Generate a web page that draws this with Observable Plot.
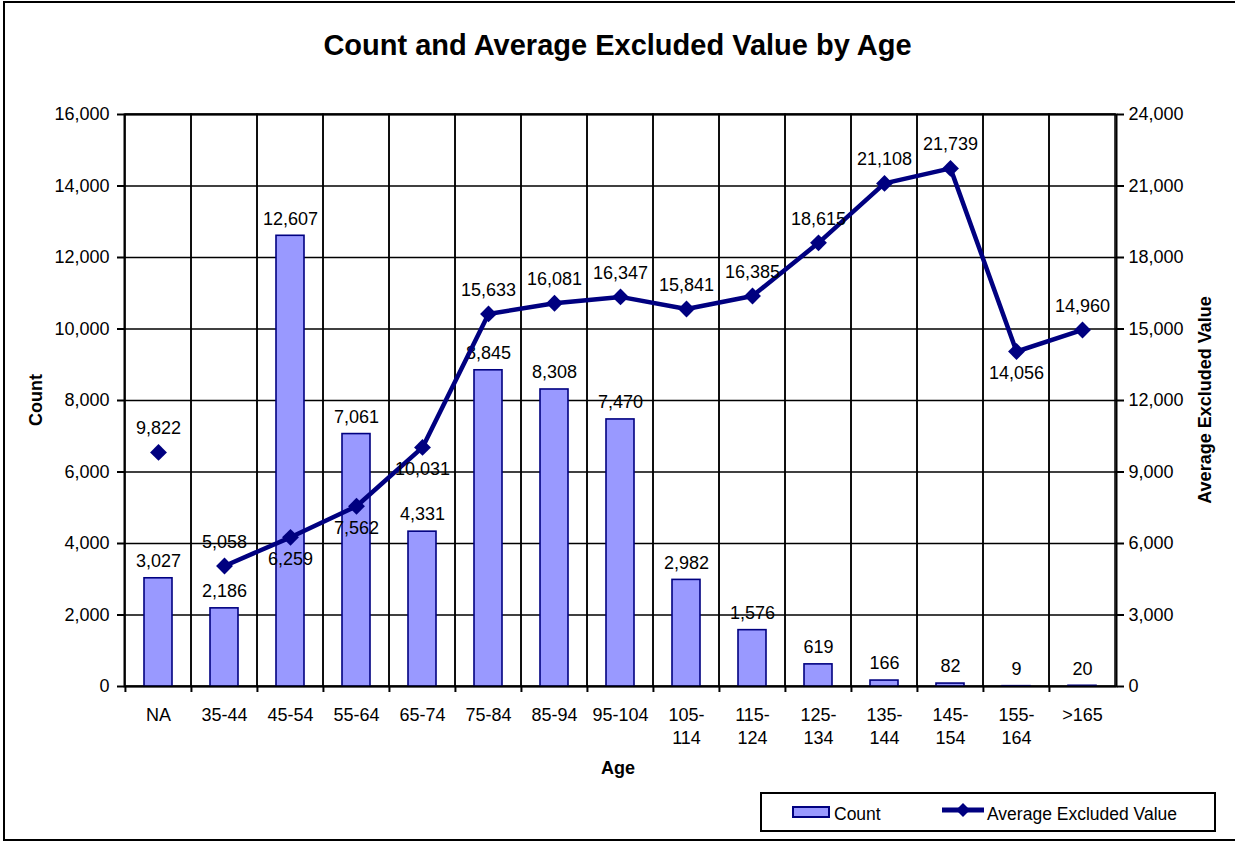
<!DOCTYPE html>
<html><head><meta charset="utf-8">
<script src="https://cdn.jsdelivr.net/npm/d3@7"></script>
<script src="https://cdn.jsdelivr.net/npm/@observablehq/plot@0.6"></script>
<style>
html,body{margin:0;padding:0;background:#fff;overflow:hidden;}
#wrap{position:relative;width:1235px;height:842px;overflow:hidden;font-family:"Liberation Sans",Arial,sans-serif;color:#000;}
#frame{position:absolute;left:3px;top:1px;width:1250px;height:840px;border:2.5px solid #000;box-sizing:border-box;pointer-events:none;}
#chart{position:absolute;left:0;top:0;}
.title{position:absolute;left:0;width:1235px;top:28px;line-height:34px;text-align:center;font-weight:bold;font-size:29px;}
.axt{position:absolute;font-weight:bold;font-size:18px;white-space:nowrap;transform:translate(-50%,-50%);line-height:20px;}
.rot{transform:translate(-50%,-50%) rotate(-90deg);}
#legend{position:absolute;left:760px;top:792px;width:456px;height:40px;border:2px solid #000;box-sizing:border-box;background:#fff;}
#legend .sw{position:absolute;left:30px;top:12px;width:38px;height:12px;background:#9999FF;border:2px solid #000080;box-sizing:border-box;}
#legend .tx{position:absolute;top:10px;line-height:20px;font-size:17.5px;white-space:nowrap;}
#legend svg{position:absolute;left:180px;top:7px;}
</style>
</head><body>
<div id="wrap">
  <div class="title">Count and Average Excluded Value by Age</div>
  <div id="chart"></div>
  <div class="axt rot" style="left:36px;top:400px;">Count</div>
  <div class="axt rot" style="left:1205px;top:400px;">Average Excluded Value</div>
  <div class="axt" style="left:618px;top:768px;">Age</div>
  <div id="legend">
    <div class="sw"></div>
    <div class="tx" style="left:72px;">Count</div>
    <svg width="44" height="18"><line x1="0" y1="9" x2="42" y2="9" stroke="#000080" stroke-width="5"/><path d="M21,2 L28,9 L21,16 L14,9 Z" fill="#000080"/></svg>
    <div class="tx" style="left:225px;">Average Excluded Value</div>
  </div>
  <div id="frame"></div>
</div>
<script>
// ---- data ----
const ages = ["NA","35-44","45-54","55-64","65-74","75-84","85-94","95-104","105-114","115-124","125-134","135-144","145-154","155-164",">165"];
const ageTickLabels = ["NA","35-44","45-54","55-64","65-74","75-84","85-94","95-104","105-\n114","115-\n124","125-\n134","135-\n144","145-\n154","155-\n164",">165"];
const counts = [3027,2186,12607,7061,4331,8845,8308,7470,2982,1576,619,166,82,9,20];
const avgValues = [9822,5058,6259,7562,10031,15633,16081,16347,15841,16385,18615,21108,21739,14056,14960];
const avgLabelPlacement = ["above","above","below","below","below","above","above","above","above","above","above","above","above","below","above"];
const countTicks = [0,2000,4000,6000,8000,10000,12000,14000,16000];
const avgTicks = [0,3000,6000,9000,12000,15000,18000,21000,24000];

const countMax = countTicks[countTicks.length-1];
const ratio = avgTicks[avgTicks.length-1] / countMax;
const data = ages.map((age,i)=>({age, count: counts[i], avg: avgValues[i], place: avgLabelPlacement[i]}));
const tickLabel = new Map(ages.map((a,i)=>[a, ageTickLabels[i]]));
const fmt = d3.format(",");

const W = 1235, H = 842, mL = 124, mR = 119, mT = 114, mB = 156;
const bw = (W - mL - mR) / ages.length;
const navy = "#000080";

const chart = Plot.plot({
  width: W, height: H,
  marginLeft: mL, marginRight: mR, marginTop: mT, marginBottom: mB,
  style: {fontFamily: '"Liberation Sans", Arial, sans-serif', fontSize: "18px", color: "#000", background: "transparent"},
  x: {type: "band", domain: ages, padding: 0},
  y: {domain: [0, countMax]},
  marks: [
    Plot.barY(ages, {x: d => d, y1: 0, y2: countMax, fill: "none", stroke: "#000", strokeWidth: 1.5}),
    Plot.ruleY(countTicks, {stroke: "#000", strokeWidth: 1.3}),
    Plot.barY(data, {x: "age", y: "count", fill: "#9999FF", stroke: navy, strokeWidth: 1.6, insetLeft: 19, insetRight: 19}),
    Plot.text(data, {x: "age", y: "count", text: d => fmt(d.count), dy: -17, fill: "#000"}),
    Plot.line(data.filter(d => d.age !== "NA"), {x: "age", y: d => d.avg / ratio, stroke: navy, strokeWidth: 4.5}),
    Plot.dot(data, {x: "age", y: d => d.avg / ratio, symbol: "diamond2", r: 7.6, fill: navy, stroke: "none"}),
    Plot.text(data.filter(d => d.place === "above"), {x: "age", y: d => d.avg / ratio, text: d => fmt(d.avg), dy: -24, fill: "#000"}),
    Plot.text(data.filter(d => d.place === "below"), {x: "age", y: d => d.avg / ratio, text: d => fmt(d.avg), dy: 22, fill: "#000"}),
    Plot.axisY(countTicks, {anchor: "left", tickSize: 7, tickPadding: 8, tickFormat: fmt, strokeWidth: 2, label: null}),
    Plot.axisY(avgTicks.map(v => v / ratio), {anchor: "right", tickSize: 7, tickPadding: 5, tickFormat: d => fmt(Math.round(d * ratio)), strokeWidth: 2, label: null}),
    Plot.axisX({tickSize: 6, tickFormat: () => "", dx: -bw / 2, strokeWidth: 2, label: null}),
    Plot.axisX({tickSize: 0, tickPadding: 18, tickFormat: d => tickLabel.get(d), lineHeight: 1.28, label: null}),
    Plot.frame({stroke: "#000", strokeWidth: 2})
  ]
});
document.getElementById("chart").appendChild(chart);
</script>
</body></html>
